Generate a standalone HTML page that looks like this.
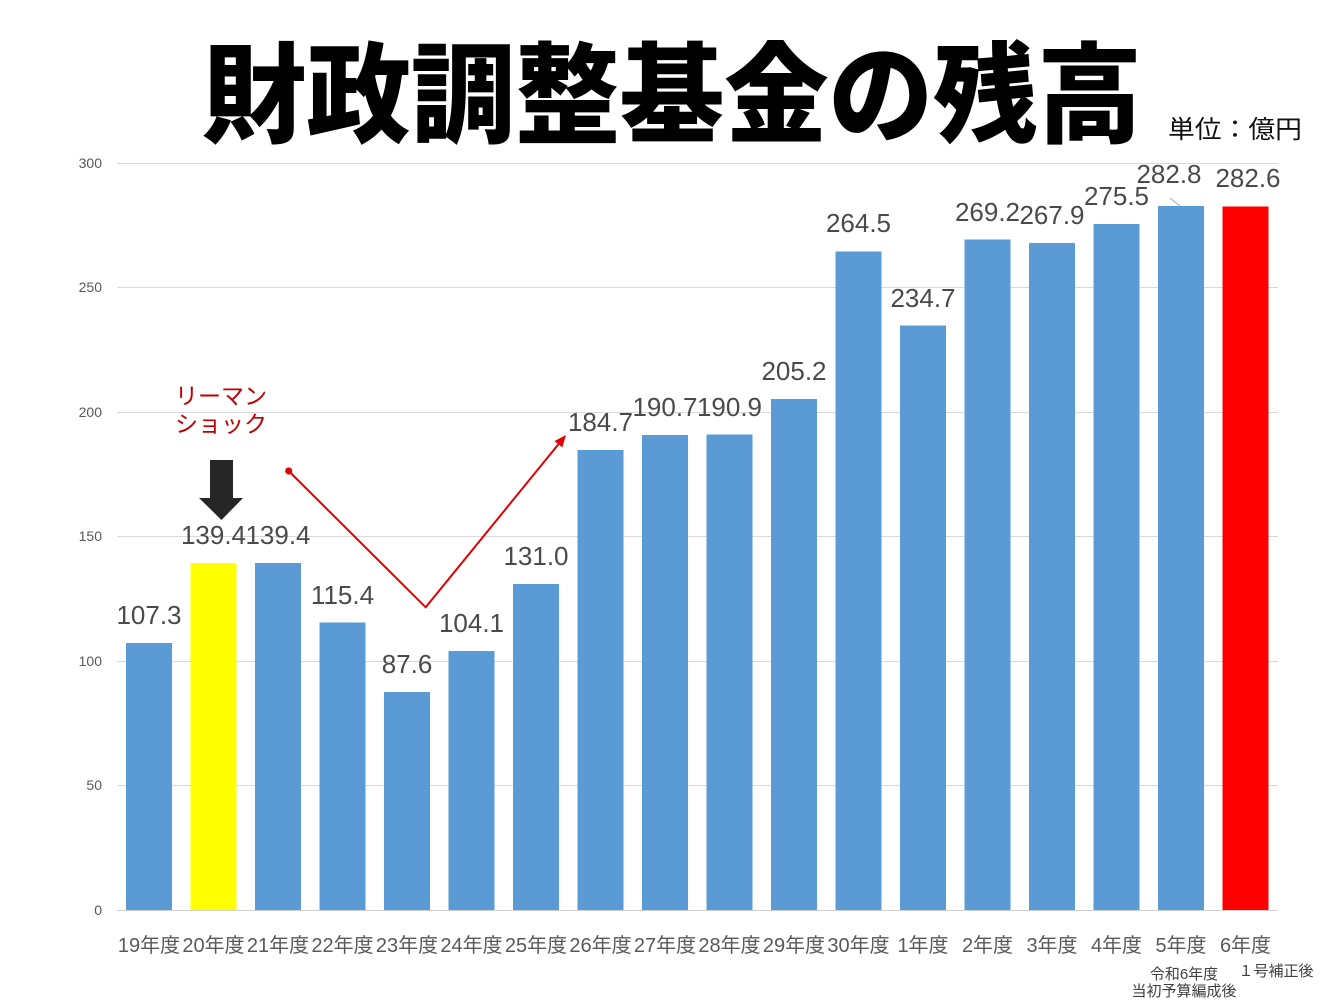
<!DOCTYPE html>
<html><head><meta charset="utf-8">
<style>
html,body{margin:0;padding:0;background:#fff;}
svg{display:block;}
.yl{font-family:"Liberation Sans","Noto Sans CJK JP",sans-serif;font-size:14px;fill:#595959;}
.dl{font-family:"Liberation Sans","Noto Sans CJK JP",sans-serif;font-size:26px;fill:#4a4a4a;}
.cl{font-family:"Liberation Sans","Noto Sans CJK JP",sans-serif;font-size:20px;fill:#595959;}
.sl{font-family:"Liberation Sans","Noto Sans CJK JP",sans-serif;font-size:15px;fill:#404040;}
</style></head>
<body>
<svg width="1344" height="1008" viewBox="0 0 1344 1008" xmlns="http://www.w3.org/2000/svg">
<rect width="1344" height="1008" fill="#fff"/>
<!-- title -->
<text x="202" y="134" textLength="940" lengthAdjust="spacingAndGlyphs" font-family="'Noto Sans CJK JP','Noto Sans CJK SC',sans-serif" font-size="109" font-weight="900" fill="#000">財政調整基金の残高</text>
<text x="1168" y="138" textLength="134" lengthAdjust="spacingAndGlyphs" font-family="'Liberation Sans','Noto Sans CJK JP',sans-serif" font-size="25" fill="#111">単位：億円</text>

<!-- gridlines -->
<g stroke="#d9d9d9" stroke-width="1" shape-rendering="crispEdges">
<line x1="117" y1="163.5" x2="1278" y2="163.5"/>
<line x1="117" y1="287.5" x2="1278" y2="287.5"/>
<line x1="117" y1="412.5" x2="1278" y2="412.5"/>
<line x1="117" y1="536.5" x2="1278" y2="536.5"/>
<line x1="117" y1="661.5" x2="1278" y2="661.5"/>
<line x1="117" y1="785.5" x2="1278" y2="785.5"/>
</g>
<!-- y labels -->
<text class="yl" x="102" y="168" text-anchor="end">300</text>
<text class="yl" x="102" y="292" text-anchor="end">250</text>
<text class="yl" x="102" y="417" text-anchor="end">200</text>
<text class="yl" x="102" y="541" text-anchor="end">150</text>
<text class="yl" x="102" y="666" text-anchor="end">100</text>
<text class="yl" x="102" y="790" text-anchor="end">50</text>
<text class="yl" x="102" y="915" text-anchor="end">0</text>

<!-- bars -->
<g shape-rendering="crispEdges">
<rect x="126" y="642.8" width="46" height="267.2" fill="#5b9bd5"/>
<rect x="190.5" y="562.9" width="46" height="347.1" fill="#ffff00"/>
<rect x="255" y="562.9" width="46" height="347.1" fill="#5b9bd5"/>
<rect x="319.5" y="622.7" width="46" height="287.3" fill="#5b9bd5"/>
<rect x="384" y="691.9" width="46" height="218.1" fill="#5b9bd5"/>
<rect x="448.5" y="650.8" width="46" height="259.2" fill="#5b9bd5"/>
<rect x="513" y="583.8" width="46" height="326.2" fill="#5b9bd5"/>
<rect x="577.5" y="450.1" width="46" height="459.9" fill="#5b9bd5"/>
<rect x="642" y="435.2" width="46" height="474.8" fill="#5b9bd5"/>
<rect x="706.5" y="434.7" width="46" height="475.3" fill="#5b9bd5"/>
<rect x="771" y="399" width="46" height="511" fill="#5b9bd5"/>
<rect x="835.5" y="251.4" width="46" height="658.6" fill="#5b9bd5"/>
<rect x="900" y="325.6" width="46" height="584.4" fill="#5b9bd5"/>
<rect x="964.5" y="239.7" width="46" height="670.3" fill="#5b9bd5"/>
<rect x="1029" y="242.9" width="46" height="667.1" fill="#5b9bd5"/>
<rect x="1093.5" y="224" width="46" height="686" fill="#5b9bd5"/>
<rect x="1158" y="205.8" width="46" height="704.2" fill="#5b9bd5"/>
<rect x="1222.5" y="206.3" width="46" height="703.7" fill="#ff0000"/>
</g>
<!-- axis -->
<line x1="117" y1="910.5" x2="1278" y2="910.5" stroke="#d0d0d0" stroke-width="1" shape-rendering="crispEdges"/>

<!-- data labels -->
<g text-anchor="middle">
<text class="dl" x="149" y="624">107.3</text>
<text class="dl" x="213.5" y="544">139.4</text>
<text class="dl" x="278" y="544">139.4</text>
<text class="dl" x="342.5" y="604">115.4</text>
<text class="dl" x="407" y="673">87.6</text>
<text class="dl" x="471.5" y="632">104.1</text>
<text class="dl" x="536" y="565">131.0</text>
<text class="dl" x="600.5" y="431">184.7</text>
<text class="dl" x="665" y="416">190.7</text>
<text class="dl" x="729.5" y="416">190.9</text>
<text class="dl" x="794" y="380">205.2</text>
<text class="dl" x="858.5" y="232">264.5</text>
<text class="dl" x="923" y="307">234.7</text>
<text class="dl" x="987.5" y="221">269.2</text>
<text class="dl" x="1052" y="224">267.9</text>
<text class="dl" x="1116.5" y="205">275.5</text>
<text class="dl" x="1169" y="183">282.8</text>
<text class="dl" x="1248" y="187">282.6</text>
</g>
<line x1="1170" y1="198" x2="1180" y2="206" stroke="#a6a6a6" stroke-width="1"/>

<!-- category labels -->
<g text-anchor="middle">
<text class="cl" x="149" y="952">19年度</text>
<text class="cl" x="213.5" y="952">20年度</text>
<text class="cl" x="278" y="952">21年度</text>
<text class="cl" x="342.5" y="952">22年度</text>
<text class="cl" x="407" y="952">23年度</text>
<text class="cl" x="471.5" y="952">24年度</text>
<text class="cl" x="536" y="952">25年度</text>
<text class="cl" x="600.5" y="952">26年度</text>
<text class="cl" x="665" y="952">27年度</text>
<text class="cl" x="729.5" y="952">28年度</text>
<text class="cl" x="794" y="952">29年度</text>
<text class="cl" x="858.5" y="952">30年度</text>
<text class="cl" x="923" y="952">1年度</text>
<text class="cl" x="987.5" y="952">2年度</text>
<text class="cl" x="1052" y="952">3年度</text>
<text class="cl" x="1116.5" y="952">4年度</text>
<text class="cl" x="1181" y="952">5年度</text>
<text class="cl" x="1245.5" y="952">6年度</text>
<text class="sl" x="1184" y="979" font-size="14">令和6年度</text>
<text class="sl" x="1184" y="996" font-size="14.5">当初予算編成後</text>
<text class="sl" x="1276" y="976">１号補正後</text>
</g>

<!-- Lehman shock annotation -->
<g text-anchor="middle" font-family="'Liberation Sans','Noto Sans CJK JP',sans-serif" font-size="23" fill="#c00000">
<text x="221" y="404">リーマン</text>
<text x="221" y="432">ショック</text>
</g>
<!-- black arrow -->
<polygon points="210,460 233,460 233,498 243,498 221.5,520 199,498 210,498" fill="#262626"/>

<!-- red V line with arrow -->
<circle cx="288.7" cy="471" r="3.6" fill="#e00000"/>
<polyline points="288.7,471 425.7,607.3 558.4,444.3" fill="none" stroke="#e00000" stroke-width="2"/>
<polygon points="566,435 562.3,447.5 554.5,441.1" fill="#e00000"/>
</svg>
</body></html>
